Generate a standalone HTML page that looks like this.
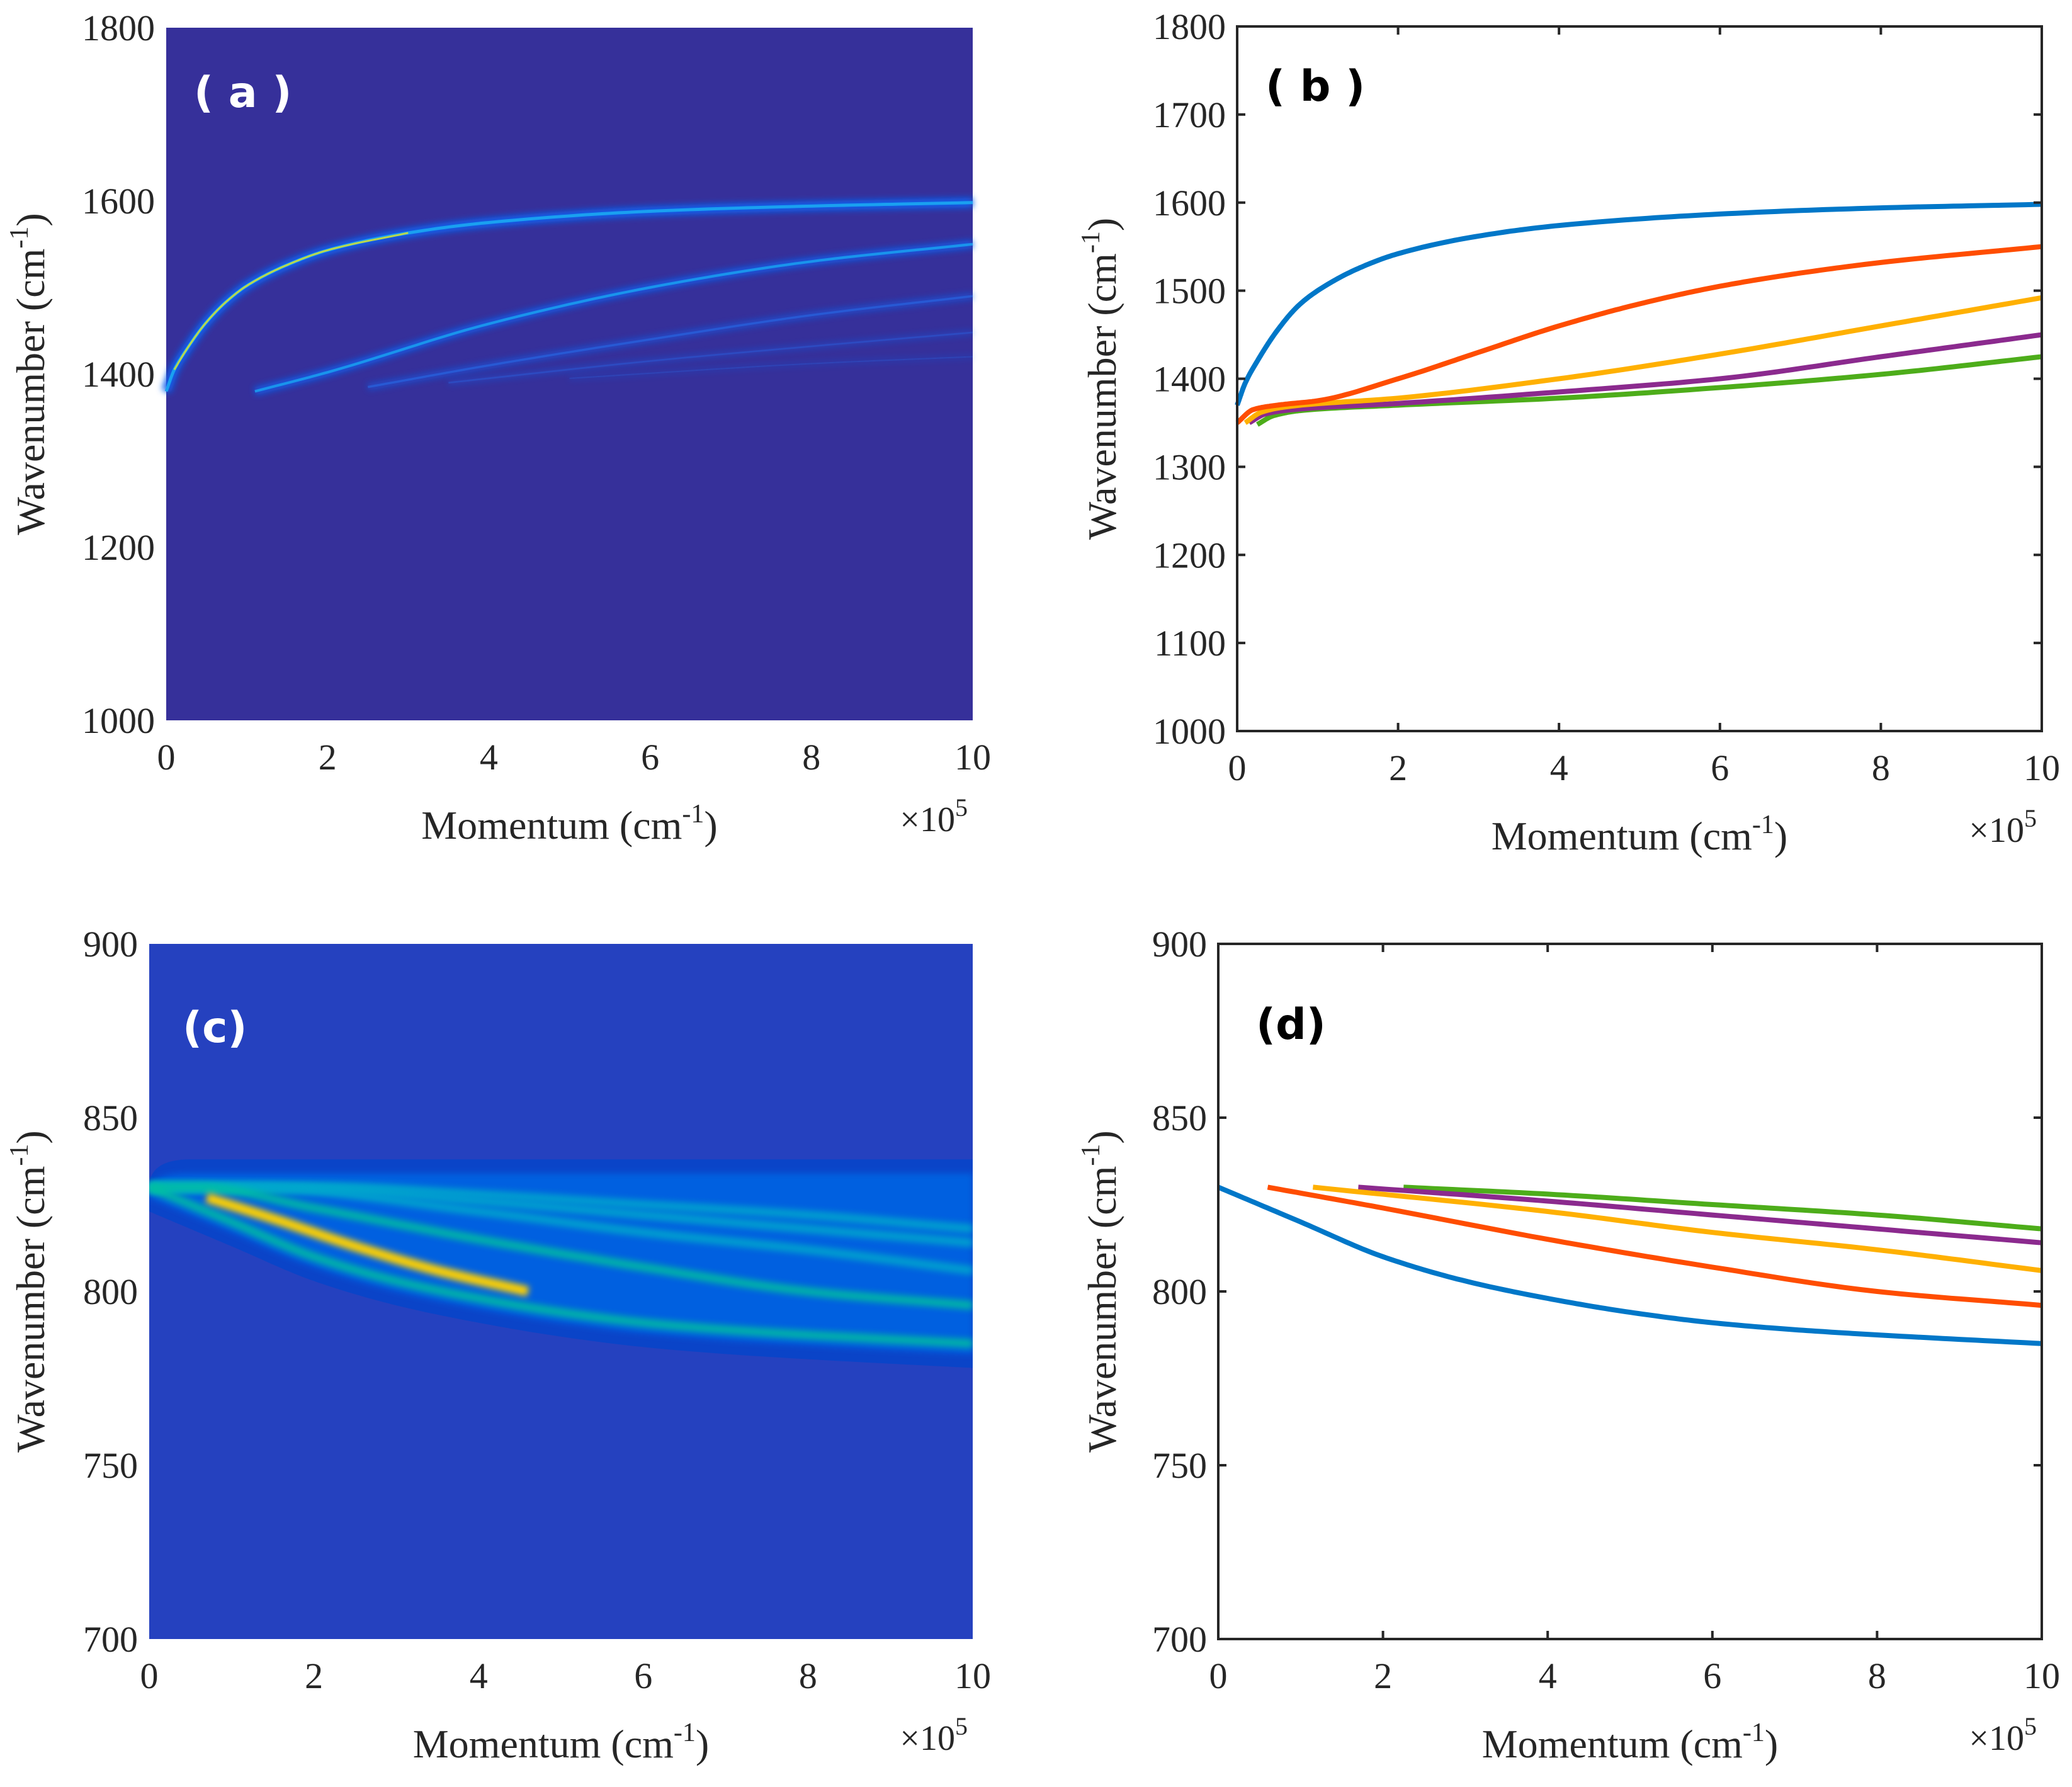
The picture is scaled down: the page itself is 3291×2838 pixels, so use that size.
<!DOCTYPE html>
<html><head><meta charset="utf-8">
<style>
html,body{margin:0;padding:0;background:#fff;}
svg text{font-family:"Liberation Serif",serif;fill:#262626;}
</style></head>
<body>
<svg id="fig" xmlns="http://www.w3.org/2000/svg" width="3291" height="2833" viewBox="0 0 3291 2833">
<defs>
<filter id="glow" x="-10%" y="-50%" width="120%" height="200%"><feGaussianBlur stdDeviation="5"/></filter>
<filter id="glow2" x="-10%" y="-50%" width="120%" height="200%"><feGaussianBlur stdDeviation="12"/></filter>
<filter id="glow3" x="-10%" y="-50%" width="120%" height="200%"><feGaussianBlur stdDeviation="22"/></filter>
</defs>
</svg>
<script>
// ---- data ----
const bBlueX=[0,0.1,0.25,0.5,0.75,1,1.5,2,3,4,6,8,10];
const bBlueY=[1370,1395,1420,1455,1482,1500,1525,1542,1562,1574,1587,1594,1598];
const bRedX=[0,0.2,0.5,1,2,3,4,5,6,7,8,10];
const bRedY=[1350,1365,1370,1375,1400,1430,1460,1485,1505,1520,1532,1550];
const bYelX=[0.1,0.3,0.6,2,4,6,8,10];
const bYelY=[1350,1362,1368,1378,1400,1428,1460,1492];
const bPurX=[0.15,0.35,0.7,2,4,6,8,10];
const bPurY=[1350,1360,1365,1372,1385,1400,1425,1450];
const bGrnX=[0.25,0.45,0.8,2,4,6,8,10];
const bGrnY=[1348,1358,1364,1370,1378,1390,1405,1425];
const dBlueX=[0,1,2,3,4,5,6,7,8,10];
const dBlueY=[830,820,810,803,798,794,791,789,787.5,785];
const dRedX=[0.6,2,4,6,8,10];
const dRedY=[830,824,815,807,800,796];
const dYelX=[1.15,4,6,8,10];
const dYelY=[830,823,817,812,806];
const dPurX=[1.7,4,6,8,10];
const dPurY=[830,826,822,818,814];
const dGrnX=[2.25,4,6,8,10];
const dGrnY=[830,828,825,822,818];
const aLineX=[[0,0.1,0.25,0.5,0.75,1,1.5,2,3,4,6,8,10],[1.1,2,4,6,8,10],[2.5,4,6,8,10],[3.5,6,8,10],[5,8,10]];
const aLineY=[[1380,1405,1428,1460,1484,1502,1526,1543,1563,1575,1588,1594,1598],[1380,1402,1458,1500,1530,1550],[1385,1410,1440,1468,1490],[1390,1415,1432,1448],[1395,1412,1420]];
const xTicks=[0,2,4,6,8,10];
const ticksA=[1000,1200,1400,1600,1800];
const ticksB=[1000,1100,1200,1300,1400,1500,1600,1700,1800];
const ticksC=[700,750,800,850,900];

const NS="http://www.w3.org/2000/svg";
const svg=document.getElementById('fig');
function mk(tag,attrs,parent){const e=document.createElementNS(NS,tag);for(const k in attrs)e.setAttribute(k,attrs[k]);(parent||svg).appendChild(e);return e;}
function axis(L,R,T,B,y0,y1){return {x:v=>L+(v/10)*(R-L),y:v=>B-(v-y0)/(y1-y0)*(B-T),L,R,T,B};}
function smoothD(ax,xs,ys){
  const n=xs.length; if(n<2) return '';
  const d=[],m=new Array(n);
  for(let i=0;i<n-1;i++) d.push((ys[i+1]-ys[i])/(xs[i+1]-xs[i]));
  m[0]=d[0]; m[n-1]=d[n-2];
  for(let i=1;i<n-1;i++){ if(d[i-1]*d[i]<=0) m[i]=0; else { const w1=2*(xs[i+1]-xs[i])+(xs[i]-xs[i-1]), w2=(xs[i+1]-xs[i])+2*(xs[i]-xs[i-1]); m[i]=(w1+w2)/(w1/d[i-1]+w2/d[i]); } }
  let s='M'+ax.x(xs[0]).toFixed(1)+' '+ax.y(ys[0]).toFixed(1);
  for(let i=0;i<n-1;i++){const h=xs[i+1]-xs[i];
    for(let k=1;k<=20;k++){const t=k/20,t2=t*t,t3=t2*t;
      const y=(2*t3-3*t2+1)*ys[i]+(t3-2*t2+t)*h*m[i]+(-2*t3+3*t2)*ys[i+1]+(t3-t2)*h*m[i+1];
      s+=' L'+ax.x(xs[i]+t*h).toFixed(1)+' '+ax.y(y).toFixed(1);}}
  return s;}
function labels(ax,yt,boxed,key){
  const g=mk('g',{});
  
  
  xTicks.forEach(t=>{const e=mk('text',{x:ax.x(t),y:ax.B+78,'font-size':58,'text-anchor':'middle'},g);e.textContent=t;
    
    
    if(boxed){mk('line',{x1:ax.x(t),x2:ax.x(t),y1:ax.B,y2:ax.B-13,stroke:'#262626','stroke-width':4},g);mk('line',{x1:ax.x(t),x2:ax.x(t),y1:ax.T,y2:ax.T+13,stroke:'#262626','stroke-width':4},g);}});
  yt.forEach(t=>{const e=mk('text',{x:ax.L-18,y:ax.y(t)+20,'font-size':58,'text-anchor':'end'},g);e.textContent=t;
    
    
    if(boxed){mk('line',{x1:ax.L,x2:ax.L+13,y1:ax.y(t),y2:ax.y(t),stroke:'#262626','stroke-width':4},g);mk('line',{x1:ax.R,x2:ax.R-13,y1:ax.y(t),y2:ax.y(t),stroke:'#262626','stroke-width':4},g);}});
  if(boxed){const r=mk('rect',{x:ax.L,y:ax.T,width:ax.R-ax.L,height:ax.B-ax.T,fill:'none',stroke:'#262626','stroke-width':4},g);
    
    }
  const xt=mk('text',{x:(ax.L+ax.R)/2,y:ax.B+188,'font-size':64,'text-anchor':'middle'},g);
  xt.innerHTML='Momentum (cm<tspan dy="-26" font-size="42">-1</tspan><tspan dy="26">)</tspan>';
  
  
  const sc=mk('text',{x:ax.R-8,y:ax.B+176,'font-size':56,'text-anchor':'end'},g);
  sc.innerHTML='×10<tspan dy="-24" font-size="40">5</tspan>';
  
  
  const cy=(ax.T+ax.B)/2, cx=(key==='a'||key==='c')?70:1772;
  const yt2=mk('text',{x:cx,y:cy,'font-size':64,'text-anchor':'middle',transform:`rotate(-90 ${cx} ${cy})`},g);
  yt2.innerHTML='Wavenumber (cm<tspan dy="-26" font-size="42">-1</tspan><tspan dy="26">)</tspan>';
  
  
}
function panelLabel(x,y,txt,color,key){const e=mk('text',{x,y,'font-size':68,'font-weight':'bold',fill:color,style:'font-family:"DejaVu Sans",sans-serif;fill:'+color});e.textContent=txt;
  
  }

// ---- panel a ----
const A=axis(264,1545,44,1144,1000,1800);
const ra=mk('rect',{x:A.L,y:A.T,width:A.R-A.L,height:A.B-A.T,fill:'#36309a'});


const aw=[7,6,5,4,3],ao=[1,0.85,0.55,0.35,0.25];
aLineX.forEach((xs,i)=>{
  const g=mk('path',{d:smoothD(A,xs,aLineY[i]),fill:'none',stroke:'#1060ee','stroke-width':aw[i]*2.2,filter:'url(#glow)',opacity:ao[i]});
  
  
  const p=mk('path',{d:smoothD(A,xs,aLineY[i]),fill:'none',stroke:i<2?'#1aa0f0':'#2a6be8','stroke-width':aw[i]*0.7,opacity:ao[i]});
  
  
});
const ay=mk('path',{d:smoothD(A,aLineX[0].slice(1,9),aLineY[0].slice(1,9)),fill:'none',stroke:'#d8e030','stroke-width':3,opacity:0.85});


panelLabel(308,170,'( a )','#fff','a');
labels(A,ticksA,false,'a');

// ---- panel b ----
const Bx=axis(1965,3243,42,1161,1000,1800);
const bSeries=[[bGrnX,bGrnY,'#4dad1a'],[bPurX,bPurY,'#8b2a8e'],[bYelX,bYelY,'#ffb000'],[bRedX,bRedY,'#ff4d00'],[bBlueX,bBlueY,'#0077c8']];
const bNames=['line-b-green','line-b-purple','line-b-yellow','line-b-red','line-b-blue'];
bSeries.forEach((s,i)=>{const p=mk('path',{d:smoothD(Bx,s[0],s[1]),fill:'none',stroke:s[2],'stroke-width':8});
  
  });
panelLabel(2010,160,'( b )','#000','b');
labels(Bx,ticksB,true,'b');

// ---- panel c ----
const C=axis(237,1545,1499,2603,700,900);
const rc=mk('rect',{x:C.L,y:C.T,width:C.R-C.L,height:C.B-C.T,fill:'#2541bf'});


const clip=mk('clipPath',{id:'clipc'});mk('rect',{x:C.L,y:C.T,width:C.R-C.L,height:C.B-C.T},clip);
const cg=mk('g',{'clip-path':'url(#clipc)'});


let env=smoothD(C,dBlueX,dBlueY.map(v=>v-7));
env+=' L'+C.R+' '+C.y(838)+' L'+C.x(0.5)+' '+C.y(838)+' Q'+C.x(0)+' '+C.y(838)+' '+C.x(0)+' '+C.y(830)+' Z';
mk('path',{d:env,fill:'#0a44c8'},cg);
let env2=smoothD(C,dBlueX,dBlueY.map(v=>v-3));
env2+=' L'+C.R+' '+C.y(834)+' L'+C.x(0.5)+' '+C.y(834)+' Q'+C.x(0.05)+' '+C.y(834)+' '+C.x(0.02)+' '+C.y(830)+' Z';
mk('path',{d:env2,fill:'#0060e0',filter:'url(#glow)'},cg);
mk('path',{d:'M'+C.x(2)+' '+C.y(826)+' L'+C.R+' '+C.y(826),stroke:'#00a8c8','stroke-width':60,filter:'url(#glow3)',opacity:0.9},cg);
[[dGrnX,dGrnY],[dPurX,dPurY],[dYelX,dYelY],[dRedX,dRedY],[dBlueX,dBlueY]].forEach((s,i)=>{
  const xs=s[0][0]>0?[0].concat(s[0]):s[0].slice(), ys=s[0][0]>0?[830].concat(s[1]):s[1].slice();
  const p=mk('path',{d:smoothD(C,xs,ys),fill:'none',stroke:i>=3?'#00c0a0':'#00a8cc','stroke-width':14,filter:'url(#glow)',opacity:0.85},cg);
  
  
});
const cy1=mk('path',{d:smoothD(C,[0.7,1.5,2.5,3.5,4.6],[827,821,813,806,800]),fill:'none',stroke:'#ffd000','stroke-width':16,filter:'url(#glow)'},cg);


panelLabel(290,1655,'(c)','#fff','c');
labels(C,ticksC,false,'c');

// ---- panel d ----
const D=axis(1935,3243,1499,2603,700,900);
const dSeries=[[dGrnX,dGrnY,'#4dad1a'],[dPurX,dPurY,'#8b2a8e'],[dYelX,dYelY,'#ffb000'],[dRedX,dRedY,'#ff4d00'],[dBlueX,dBlueY,'#0077c8']];
const dNames=['line-d-green','line-d-purple','line-d-yellow','line-d-red','line-d-blue'];
dSeries.forEach((s,i)=>{const p=mk('path',{d:smoothD(D,s[0],s[1]),fill:'none',stroke:s[2],'stroke-width':8});
  
  });
panelLabel(1995,1650,'(d)','#000','d');
labels(D,ticksC,true,'d');
</script>
</body></html>
